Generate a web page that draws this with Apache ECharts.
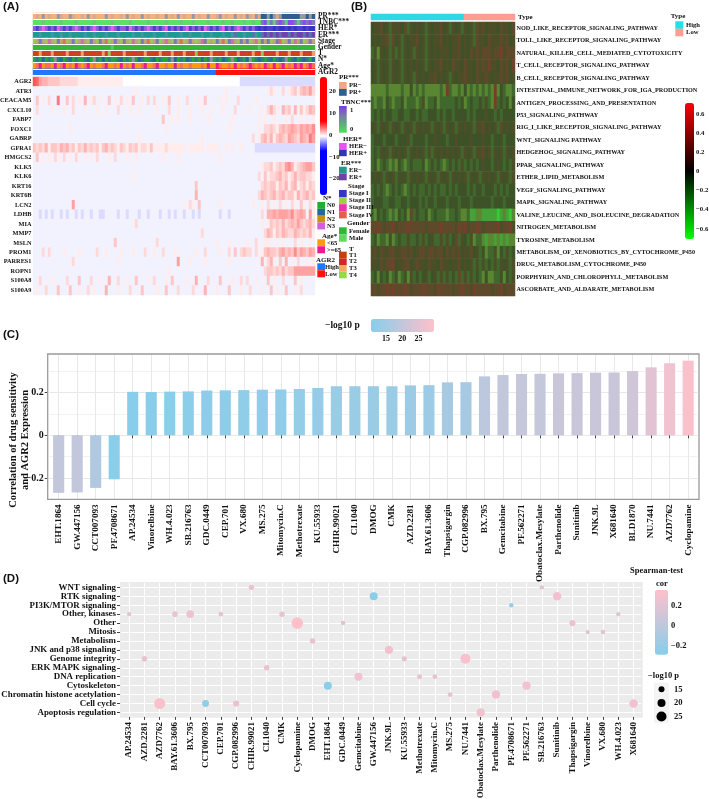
<!DOCTYPE html>
<html>
<head>
<meta charset="utf-8">
<style>html,body{margin:0;padding:0;background:#fff}#main{width:709px;height:799px}</style>
<script src="https://cdn.jsdelivr.net/npm/echarts@6/dist/echarts.min.js"></script>
</head>
<body>
<div id="main"></div>
<script>
var SERIF = '"Liberation Serif"';

// ---- panel A: annotation tracks, one letter per column, letter = index into the palette
var trackNames = ['PR***', 'TNBC***', 'HER*', 'ER***', 'Stage', 'Gender', 'T', 'N*', 'Age*', 'AGR2'];
var trackColors = [
    ['#F6AE82', '#DBA98C', '#949AA4', '#2E5F8E'],
    ['#5CE066', '#6CC87E', '#8078B8', '#8A4CE8'],
    ['#E860E8', '#8E5CDC', '#4A42CC', '#3434C0'],
    ['#1F9A90', '#3D9AA0', '#5C72AE', '#7040B0'],
    ['#A0C858', '#B8A878', '#7A78B8', '#D070A0', '#E0705A'],
    ['#35B835', '#58CC58'],
    ['#D63A28', '#C84A10', '#F0A060', '#98C848'],
    ['#22A838', '#2A7F80', '#206B9A', '#9090A0'],
    ['#FF9A10', '#F87050', '#F01890'],
    ['#1E78FF', '#FF1010']
];
var trackRows = [
    'abacabaacb aacbaabaca baaacabaab acabaacaba abaacabaca baacabaaca abcabaacab acbacbddcd cbcddddddc cdcd',
    'aaabaaaaab aaaabaaaaa baaaaabaaa aabaaaaaba aaaabaaaab aaabaaaaba aaabaabaaa baabaacdbc bcdcbddcbc dcdc',
    'bcbabcbcab cbcbabcbcb abcbcbabcb bcabcbcbab cbcbacbcbc bacbcbcabc bcbacbcbab cbcbcdcdcc dcddcdcdcc dcdd',
    'aabaaabaab aabaaaabaa baaabaaaba aaabaabaaa baaabaaaab aabaaabaab aaabaabcaa baacbacdcd cdcddcdcdd cdcd',
    'abcbadbacb eabcabdbac bacbeabcba cbadbacbea bcabdbacbe abcbabdcab acbeacdbac bcabdacbca bceabcadbc abcb',
    'aaaaaaaaaa aaaaaaaaaa aaaaaabaaa aaaaaaaaaa aaaaaaaaaa aaaaaaaaaa aaaaaaaaaa aaaaabaaaa aaaaaaaaaa aaaa',
    'abcabacabb acaabacaba abacadabaa cabaabacab aacabacaba cabadabaac abaacabaca abacbadaab acabacabac abac',
    'abacabadbc abcabaabca dbacabaabc abadacbaab cabaabdcab acbabacabd abacbadacb acdabcbabc abcbdabcab cbac',
    'abcabbacab cabacbabca baabcaabac abacaabcaa bcaabaacab aabaaabaca acbaabacab abcbabacba cabcabacbc abcb',
    'aaaaaaaaaa aaaaaaaaaa aaaaaaaaaa aaaaaaaaaa aaaaaaaaaa aaaaaaaaaa abbbbbbbbb bbbbbbbbbb bbbbbbbbbb bbbb'
];

// ---- panel A: expression heatmap, 94 columns. '.' background, 'a' lavender, 0-9 white to red
var genes = ['AGR2', 'ATR3', 'CEACAM5', 'CXCL10', 'FABP7', 'FOXC1', 'GABRP', 'GFRA1', 'HMGCS2', 'KLK5', 'KLK6', 'KRT16',
    'KRT6B', 'LCN2', 'LDHB', 'MIA', 'MMP7', 'MSLN', 'PROM1', 'PARRES1', 'ROPN1', 'S100A8', 'S100A9'];
var geneRows = [
    '9854433332 2222211111 1111111111 0000000000 0000000000 0000000000 000000000a aaaaaaaaaa aaaaaaaaaa aaaa',
    '.......... .......... .......... ....1..... .......... .......... ....1..... ........12 1..2.12313 4352',
    '.3.1.2..7. .3.2.1.4.1 2.1..3.1.2 .1.3..1.2. 2..1.3..1. .2...1.3.. ..1.1...2. ....1..... .......... ....',
    '.2....1... 1..2...1.. .1..1...2. ..1..1.... .1...2..1. ..1...1..1 ...1...2.. ..1...1.24 21.423.413 1243',
    '.......... .......... .......... .......... ...3..1.1. ..1.....1. ......1... .....1.1.. 1...1.2..1 .1.1',
    '.......... ..1....... .......... .......... ....1..... .......... .....1.... .....1.223 2134345435 4546',
    '.......... .......... .......... .....1.... .......... ......1... .......... ...2.13424 1343254325 4375',
    '3232413324 3423132423 2313423213 2132312213 1111211111 1.11111.11 11..1.1..1 ....aaaaaa aaaaaaaaaa aaaa',
    '.3.1.1.21. 2.1.2..1.1 .2...1.2.. .1..1..... ...1....1. .......... ..1....... .......... .......... ....',
    '.......... .......... .......... .......... .......... .......... .......... ......1223 1232564123 4553',
    '.......... .......... .......... ...1...... .......... .......... .......... .....2.312 2342312423 3221',
    '.......... .......... .......... .......... .......... ....3..... .......... ......2323 3132413412 3132',
    '.......... .......... .......... .......... .......... ....4..... .......... .....24323 4234233142 3423',
    '.......... ...5...... .......... .......... .......... 1.21.3.... ..1....... ...1..1.2. 1.2.1.21.3 1.21',
    '..a.a.a..a .a..a.a..a ..aa....a. .a...a..a. ..a..a.a.. a..a.a.... ..a..a.... ......2.44 5455546345 4.51',
    '.......... .......... .......... ....2..... .......... .......... .......... ......1.13 2324234353 2342',
    '.......... .......... .......... .......... .......... ......2... .......... .......243 1324322432 3241',
    '.......... .......... .......3.. .......... .2........ .......... .1...1.... .1..2..11. .1.1...2.1 ..1.',
    '...2.2.... 1....1.... .2..1....1 ...1...2.. 1..2...1.. ....1..2.. ..1..2.3.2 322.2.1343 3245343635 4354',
    '.......... ...2...... ........1. .......... ........5. ..1....1.. .....1.... ......4.24 1.3.4.1.2. .1.1',
    '.......... .......... .......... .......... .....1.... .......... .......... .......233 2324233555 5555',
    '..2...1... .2...3...2 ..1..4..2. .1..3...1. 2...1.3... .1..4...2. ..3...1..2 .2..1...3. 1..2...3.1 ....',
    '.1..2...3. ..3..1..2. 1...4...1. ..2...3... .1..3...2. ...2...4.. .1...3...1 ..2...1..3 .1..3..1.2 ....'
];

// ---- panel B: pathway heatmap, 48 columns, 0 green to 9 red
var pathways = ['NOD_LIKE_RECEPTOR_SIGNALING_PATHWAY', 'TOLL_LIKE_RECEPTOR_SIGNALING_PATHWAY', 'NATURAL_KILLER_CELL_MEDIATED_CYTOTOXICITY',
    'T_CELL_RECEPTOR_SIGNALING_PATHWAY', 'B_CELL_RECEPTOR_SIGNALING_PATHWAY', 'INTESTINAL_IMMUNE_NETWORK_FOR_IGA_PRODUCTION',
    'ANTIGEN_PROCESSING_AND_PRESENTATION', 'P53_SIGNALING_PATHWAY', 'RIG_I_LIKE_RECEPTOR_SIGNALING_PATHWAY', 'WNT_SIGNALING PATHWAY',
    'HEDGEHOG_SIGNALING_PATHWAY', 'PPAR_SIGNALING_PATHWAY', 'ETHER_LIPID_METABOLISM', 'VEGF_SIGNALING_PATHWAY', 'MAPK_SIGNALING_PATHWAY',
    'VALINE_LEUCINE_AND_ISOLEUCINE_DEGRADATION', 'NITROGEN_METABOLISM', 'TYROSINE_METABOLISM', 'METABOLISM_OF_XENOBIOTICS_BY_CYTOCHROME_P450',
    'DRUG_METABOLISM_CYTOCHROME_P450', 'PORPHYRIN_AND_CHLOROPHYLL_METABOLISM', 'ASCORBATE_AND_ALDARATE_METABOLISM'];
var pathwayRows = [
    '45564535 55463545 45354556 45354535 45365645 55465546',
    '45455636 45354556 45354556 45455645 45365546 55565645',
    '35254535 35354535 45354545 55455645 46565666 56675666',
    '45354535 45354545 45354556 45465546 55465657 55465647',
    '45354535 45354535 45455645 45354556 55465565 45565645',
    '22222322 22322423 23222223 27322324 23232323 27243223',
    '32332432 33423332 35233423 33334342 34334353 27343424',
    '34343443 34433443 43344434 34434444 34344454 43434444',
    '45354535 45354535 45453545 35453545 45355645 45364545',
    '34443444 34445344 44344544 43445444 45444544 34443444',
    '34354535 45453545 45353545 45454535 45355645 35453545',
    '34234323 24323433 34234343 23434353 43434544 34543435',
    '45453545 35453545 45354535 45354545 35453545 45354535',
    '34343234 34323434 33434343 34343444 34344344 43434344',
    '34443344 33443444 34344344 43444344 43444444 34443444',
    '32434323 24342634 33423433 32334322 31122111 11012102',
    '66765667 56667666 66566667 66665767 56676566 66756675',
    '34233242 34335334 35345335 35346354 35233212 21212122',
    '56465566 55665645 66566566 46565645 56453423 35243534',
    '55465667 45566456 55465546 55455645 45353534 35354535',
    '34243423 42342534 34534535 35343635 35343242 23342435',
    '66566767 66676566 67666576 66656676 65766666 56675666'
];
var typeRow = 'aaaaaaaa aaaaaaaa aaaaaaaa aaaaaaab bbbbbbbb bbbbbbbb';
var typeColors = ['#2ED8E4', '#FF9C94'];

// ---- panel C: drug correlation, ordered by correlation
var drugs = ['EHT.1864', 'GW.447156', 'CCT007093', 'PF.4708671', 'AP.24534', 'Vinorelbine', 'WH.4.023', 'SB.216763', 'GDC.0449', 'CEP.701',
    'VX.680', 'MS.275', 'Mitomycin.C', 'Methotrexate', 'KU.55933', 'CHIR.99021', 'CI.1040', 'DMOG', 'CMK', 'AZD.2281', 'BAY.61.3606',
    'Thapsigargin', 'CGP.082996', 'BX.795', 'Gemcitabine', 'PF.562271', 'Obatoclax.Mesylate', 'Parthenolide', 'Sunitinib', 'JNK.9L',
    'X681640', 'BLD1870', 'NU.7441', 'AZD7762', 'Cyclopamine'];
var corValues = [-0.268, -0.266, -0.245, -0.205, 0.202, 0.201, 0.203, 0.204, 0.208, 0.209, 0.21, 0.212, 0.213, 0.215, 0.22, 0.228, 0.228,
    0.228, 0.228, 0.232, 0.233, 0.246, 0.247, 0.274, 0.28, 0.285, 0.286, 0.288, 0.289, 0.291, 0.292, 0.299, 0.316, 0.335, 0.347];
var logP = [20, 20, 17, 11, 10.6, 10.6, 10.8, 11, 11.3, 11.5, 11.7, 12, 12, 12.3, 12.8, 13.6, 13.6, 13.6, 13.6, 14, 14, 15.5, 15.5,
    19, 20, 20.5, 20.5, 21, 21, 21, 21.3, 22, 25, 27.5, 29];

// ---- panel D: drug by pathway bubbles
var signalings = ['WNT signaling', 'RTK signaling', 'PI3K/MTOR signaling', 'Other, kinases', 'Other', 'Mitosis', 'Metabolism', 'JNK and p38 signaling',
    'Genome integrity', 'ERK MAPK signaling', 'DNA replication', 'Cytoskeleton', 'Chromatin histone acetylation', 'Cell cycle', 'Apoptosis regulation'];
var bubbleDrugs = ['AP.24534', 'AZD.2281', 'AZD7762', 'BAY.61.3606', 'BX.795', 'CCT007093', 'CEP.701', 'CGP.082996', 'CHIR.99021', 'CI.1040', 'CMK',
    'Cyclopamine', 'DMOG', 'EHT.1864', 'GDC.0449', 'Gemcitabine', 'GW.447156', 'JNK.9L', 'KU.55933', 'Methotrexate', 'Mitomycin.C', 'MS.275', 'NU.7441',
    'Obatoclax.Mesylate', 'Parthenolide', 'PF.4708671', 'PF.562271', 'SB.216763', 'Sunitinib', 'Thapsigargin', 'Vinorelbine', 'VX.680', 'WH.4.023', 'X681640'];
var bubblePairs = [['CHIR.99021', 'WNT signaling'], ['SB.216763', 'WNT signaling'], ['GW.447156', 'RTK signaling'], ['Sunitinib', 'RTK signaling'],
    ['PF.4708671', 'PI3K/MTOR signaling'], ['AP.24534', 'Other, kinases'], ['BAY.61.3606', 'Other, kinases'], ['BX.795', 'Other, kinases'],
    ['CEP.701', 'Other, kinases'], ['CMK', 'Other, kinases'], ['WH.4.023', 'Other, kinases'], ['Cyclopamine', 'Other'], ['GDC.0449', 'Other'],
    ['Thapsigargin', 'Other'], ['Vinorelbine', 'Mitosis'], ['VX.680', 'Mitosis'], ['DMOG', 'Metabolism'], ['JNK.9L', 'JNK and p38 signaling'],
    ['AZD.2281', 'Genome integrity'], ['KU.55933', 'Genome integrity'], ['NU.7441', 'Genome integrity'], ['CI.1040', 'ERK MAPK signaling'],
    ['Gemcitabine', 'DNA replication'], ['Methotrexate', 'DNA replication'], ['Mitomycin.C', 'DNA replication'], ['EHT.1864', 'Cytoskeleton'],
    ['PF.562271', 'Cytoskeleton'], ['MS.275', 'Chromatin histone acetylation'], ['Parthenolide', 'Chromatin histone acetylation'], ['AZD7762', 'Cell cycle'],
    ['CCT007093', 'Cell cycle'], ['CGP.082996', 'Cell cycle'], ['X681640', 'Cell cycle'], ['Obatoclax.Mesylate', 'Apoptosis regulation']];
var sizeKeys = [15, 20, 25];

// ---- legends of panels A and B
var legendBlocks = [
    { title: 'PR***', tx: 339, ty: 77.5, kx: 339, ky: 82, kh: 6.9, lx: 349, items: [['PR−', '#F6A67C'], ['PR+', '#2E5F8E']] },
    { title: 'HER*', tx: 343, ty: 139, kx: 339, ky: 143, kh: 6.6, lx: 349, items: [['HER−', '#F050F0'], ['HER+', '#3333BB']] },
    { title: 'ER***', tx: 341, ty: 162.7, kx: 339, ky: 166.7, kh: 6.8, lx: 349, items: [['ER−', '#1F9A90'], ['ER+', '#7040B0']] },
    { title: 'Stage', tx: 348, ty: 186, kx: 339, ky: 190, kh: 7.1, lx: 349, items: [['Stage I', '#3535C5'], ['Stage II', '#A0D040'], ['Stage III', '#F030B0'], ['Stage IV', '#E06050']] },
    { title: 'Gender', tx: 347, ty: 223.3, kx: 339, ky: 227.3, kh: 7.2, lx: 349, items: [['Female', '#30B830'], ['Male', '#60D860']] },
    { title: 'T', tx: 349, ty: 248.7, kx: 339, ky: 251.7, kh: 6.65, lx: 349, items: [['T1', '#C84000'], ['T2', '#D02828'], ['T3', '#F8A860'], ['T4', '#98D848']] },
    { title: 'N*', tx: 323, ty: 198.3, kx: 317.3, ky: 202, kh: 6.85, lx: 327, items: [['N0', '#20B030'], ['N1', '#206B9A'], ['N2', '#C89018'], ['N3', '#D060E0']] },
    { title: 'Age*', tx: 322, ty: 235.7, kx: 317.3, ky: 239.3, kh: 7, lx: 327, items: [['<65', '#FF9A10'], ['>=65', '#F01890']] },
    { title: 'AGR2', tx: 316, ty: 260, kx: 317.3, ky: 263.3, kh: 7, lx: 325, items: [['High', '#1E78FF'], ['Low', '#FF1010']] },
    { title: 'Type', tx: 670.7, ty: 15.7, kx: 675.3, ky: 21.3, kh: 7.5, lx: 686, items: [['High', '#20E0E8'], ['Low', '#FF9C94']] }
];

// ---- helpers
function cells(row) { return row.replace(/ /g, '').split(''); }
function geneValue(ch) {
    if (ch === '.') return -0.85;
    if (ch === 'a') return -1.45;
    return -0.5 + Number(ch) * 0.5;
}
function pathwayValue(ch) { return (Number(ch) - 4.5) * 0.15; }
function bubbleSize(p) { return 6 + (p - 15) * 0.4; }
function minusSign(v) { return String(v).replace('-', '−'); }
function columns(n) { var a = []; for (var i = 0; i < n; i++) a.push(i); return a; }

var grids = [], xAxes = [], yAxes = [], series = [], visualMaps = [], graphics = [];
// returns the axis index (also the index of its grid until an extra axis is pushed)
function addGrid(rect, x, y) {
    rect.containLabel = false;
    rect.outerBoundsMode = 'none'; // v6 would shrink the grid when a long label reaches the canvas edge
    grids.push(rect);
    x.gridIndex = y.gridIndex = grids.length - 1;
    xAxes.push(x); yAxes.push(y);
    return xAxes.length - 1;
}
function hiddenCat(data) { return { type: 'category', data: data, show: false }; }
function labelFont(size) { return { fontFamily: SERIF, fontWeight: 'bold', fontSize: size, color: '#111' }; }
function text(x, y, str, size, align, family) {
    graphics.push({
        type: 'text', x: x, y: y, z: 20, silent: true,
        style: { text: str, fontFamily: family || SERIF, fontWeight: 'bold', fontSize: size, fill: '#111', align: align || 'left', verticalAlign: 'middle' }
    });
}
function box(x, y, w, h, style, z) {
    graphics.push({ type: 'rect', x: x, y: y, z: z === undefined ? 20 : z, silent: true, shape: { x: 0, y: 0, width: w, height: h }, style: style });
}
function catAxisY(names, position, margin, size) {
    return {
        type: 'category', data: names, inverse: true, position: position,
        axisLine: { show: false }, axisTick: { show: false },
        axisLabel: Object.assign({ margin: margin, interval: 0 }, labelFont(size))
    };
}
// colour bar axis: only the tick labels, the bar itself is the visualMap
function barAxis(rect, min, max, ticks, size, margin) {
    addGrid(rect, { type: 'value', show: false, min: 0, max: 1 }, {
        type: 'value', min: min, max: max, position: 'right', splitLine: { show: false },
        axisLine: { show: false }, axisTick: { show: false },
        axisLabel: Object.assign({ customValues: ticks, margin: margin, formatter: minusSign }, labelFont(size))
    });
}

// ---- categorical palette shared by all annotation tracks
var catColors = [], catPieces = [];
function catOffset(colors) {
    var off = catColors.length;
    colors.forEach(function (c, i) { catColors.push(c); catPieces.push({ value: off + i, color: c }); });
    return off;
}
var catSeries = [];

// panel A tracks
var trackGrid = addGrid({ left: 33, top: 13, width: 282, height: 62 }, hiddenCat(columns(94)), Object.assign(catAxisY(trackNames, 'right', 3, 7.3), {
    z: 5, splitLine: { show: true, lineStyle: { color: '#fff', width: 1 } }
}));
var trackData = [];
trackRows.forEach(function (row, r) {
    var off = catOffset(trackColors[r]);
    cells(row).forEach(function (ch, c) { trackData.push([c, r, off + ch.charCodeAt(0) - 97]); });
});
catSeries.push(series.length);
series.push({ type: 'heatmap', xAxisIndex: trackGrid, yAxisIndex: trackGrid, data: trackData, progressive: 0, silent: true });

// panel A heatmap
var geneGrid = addGrid({ left: 33, top: 77, width: 282, height: 218 }, hiddenCat(columns(94)), catAxisY(genes, 'left', 1.5, 6.3));
var geneData = [];
geneRows.forEach(function (row, r) {
    cells(row).forEach(function (ch, c) { geneData.push([c, r, geneValue(ch)]); });
});
visualMaps.push({
    type: 'continuous', seriesIndex: series.length, min: -27.5, max: 26.5, left: 320, top: 77, itemWidth: 7, itemHeight: 118,
    padding: 0, text: null, calculable: false, hoverLink: false,
    inRange: { color: ['#0000FF', '#0000FF', '#0000FF', '#0000FF', '#FFFFFF', '#FF0000', '#FF0000', '#FF0000', '#FF0000'] }
});
series.push({ type: 'heatmap', xAxisIndex: geneGrid, yAxisIndex: geneGrid, data: geneData, progressive: 0, silent: true });
barAxis({ left: 320, top: 77, width: 7, height: 118 }, -27.5, 26.5, [-20, -10, 0, 10, 20], 6.8, 2);

// panel B type bar
var typeGrid = addGrid({ left: 371, top: 14, width: 144, height: 6 }, hiddenCat(columns(48)), catAxisY(['Type'], 'right', 3, 7));
var typeOff = catOffset(typeColors);
catSeries.push(series.length);
series.push({
    type: 'heatmap', xAxisIndex: typeGrid, yAxisIndex: typeGrid, progressive: 0, silent: true,
    data: cells(typeRow).map(function (ch, c) { return [c, 0, typeOff + ch.charCodeAt(0) - 97]; })
});
visualMaps.push({ type: 'piecewise', show: false, seriesIndex: catSeries, pieces: catPieces });

// panel B heatmap. The picture is downsampled from many thin stripes, so neighbours have
// blended into olive; the cell colours keep that look, the colour bar keeps the real scale.
var pathGrid = addGrid({ left: 371, top: 22, width: 144, height: 274 }, hiddenCat(columns(48)), catAxisY(pathways, 'right', 1.5, 6.2));
var pathData = [];
pathwayRows.forEach(function (row, r) {
    cells(row).forEach(function (ch, c) { pathData.push([c, r, pathwayValue(ch)]); });
});
visualMaps.push({
    type: 'continuous', show: false, seriesIndex: series.length, min: -0.675, max: 0.675,
    inRange: { color: ['#36C836', '#44A238', '#5A8632', '#41682C', '#3E5228', '#4C4E28', '#5E4A2A', '#74402C', '#94342C', '#C82C28'] }
});
series.push({ type: 'heatmap', xAxisIndex: pathGrid, yAxisIndex: pathGrid, data: pathData, progressive: 0, silent: true });
// colour bar of panel B, tied to an empty series
visualMaps.push({
    type: 'continuous', seriesIndex: series.length, min: -0.707, max: 0.715, left: 685, top: 103, itemWidth: 9, itemHeight: 136,
    padding: 0, text: null, calculable: false, hoverLink: false,
    inRange: { color: ['#00FF00', '#000000', '#FF0000'] }
});
series.push({ type: 'heatmap', xAxisIndex: pathGrid, yAxisIndex: pathGrid, data: [], silent: true });
barAxis({ left: 685, top: 103, width: 9, height: 136 }, -0.707, 0.715, [-0.6, -0.4, -0.2, 0, 0.2, 0.4, 0.6], 6.8, 2);

// panel C
var barGrid = addGrid({ left: 49.4, top: 354, width: 648, height: 145.3 }, {
    type: 'category', data: drugs,
    axisLine: { show: false },
    axisTick: { show: true, alignWithLabel: true, length: 3, lineStyle: { color: '#444' } },
    splitLine: { show: true, alignWithLabel: true, interval: 0, lineStyle: { color: '#E8E8E8', width: 1 } },
    axisLabel: Object.assign({ rotate: 90, interval: 0, margin: 5 }, labelFont(9.2))
}, {
    type: 'value', min: -0.298, max: 0.378, position: 'left', offset: 1.7,
    axisLine: { show: false },
    axisTick: { show: true, length: 3, customValues: [-0.2, 0, 0.2], lineStyle: { color: '#444' } },
    splitLine: { show: true, lineStyle: { color: '#E8E8E8', width: 1 } },
    axisLabel: Object.assign({ customValues: [-0.2, 0, 0.2], margin: 4, formatter: minusSign }, labelFont(10))
});
// minor horizontal lines of panel C
xAxes.push({ type: 'category', data: drugs, show: false, gridIndex: grids.length - 1 });
yAxes.push({
    type: 'value', min: -0.298, max: 0.378, gridIndex: grids.length - 1, position: 'right',
    axisLine: { show: false }, axisTick: { show: false, customValues: [-0.1, 0.1, 0.3] }, axisLabel: { show: false, customValues: [-0.1, 0.1, 0.3] },
    splitLine: { show: true, lineStyle: { color: '#F2F2F2', width: 1 } }
});
visualMaps.push({
    type: 'continuous', orient: 'horizontal', seriesIndex: series.length, dimension: 2, min: 10.4, max: 29.8,
    left: 371, top: 319, itemWidth: 13, itemHeight: 63, padding: 0, text: null, calculable: false, hoverLink: false,
    inRange: { color: ['#87CEEB', '#FFC0CB'] }
});
series.push({
    type: 'bar', xAxisIndex: barGrid, yAxisIndex: barGrid, barWidth: '60%', silent: true, z: 3,
    encode: { x: 0, y: 1 },
    data: drugs.map(function (d, i) { return [d, corValues[i], logP[i]]; })
});
// ticks under the horizontal -log10 p bar
addGrid({ left: 371, top: 319, width: 63, height: 13 }, {
    type: 'value', min: 10.4, max: 29.8, axisLine: { show: false }, axisTick: { show: false }, splitLine: { show: false },
    axisLabel: Object.assign({ customValues: [15, 20, 25], margin: 3 }, labelFont(8))
}, { type: 'value', show: false, min: 0, max: 1 });

// panel D
box(120, 581.9, 522.7, 135.8, { fill: '#EBEBEB' }, -1);
var dotGrid = addGrid({ left: 121.5, top: 582.9, width: 519.7, height: 134 }, {
    type: 'category', data: bubbleDrugs,
    axisLine: { show: false },
    axisTick: { show: true, alignWithLabel: true, length: 3, lineStyle: { color: '#444' } },
    splitLine: { show: true, alignWithLabel: true, interval: 0, lineStyle: { color: '#fff', width: 1 } },
    axisLabel: Object.assign({ rotate: 90, interval: 0, margin: 5 }, labelFont(9))
}, {
    type: 'category', data: signalings, inverse: true, offset: 1.5,
    axisLine: { show: false },
    axisTick: { show: true, alignWithLabel: true, length: 3, lineStyle: { color: '#444' } },
    splitLine: { show: true, alignWithLabel: true, interval: 0, lineStyle: { color: '#fff', width: 1 } },
    axisLabel: Object.assign({ interval: 0, margin: 4 }, labelFont(8.9))
});
visualMaps.push({
    type: 'continuous', seriesIndex: series.length, dimension: 3, min: -0.286, max: 0.355,
    left: 655, top: 590, itemWidth: 13, itemHeight: 64.7, padding: 0, text: null, calculable: false, hoverLink: false,
    inRange: { color: ['#87CEEB', '#FFC0CB'] }
});
series.push({
    type: 'scatter', xAxisIndex: dotGrid, yAxisIndex: dotGrid, silent: true,
    symbolSize: function (v) { return bubbleSize(v[2]); },
    encode: { x: 0, y: 1 },
    itemStyle: { opacity: 1 },
    data: bubblePairs.map(function (b) {
        var i = drugs.indexOf(b[0]);
        return [b[0], b[1], logP[i], corValues[i]];
    })
});
barAxis({ left: 655, top: 590, width: 13, height: 64.7 }, -0.286, 0.355, [-0.2, 0, 0.2], 8.5, 3);

// size key of panel D
box(654, 682.6, 15, 40.6, { fill: '#F4F4F4' }, -1);
var keyGrid = addGrid({ left: 654, top: 682.6, width: 15, height: 40.6 }, { type: 'category', data: ['k'], show: false },
    catAxisY(sizeKeys.map(String), 'right', 5, 8.5));
series.push({
    type: 'scatter', xAxisIndex: keyGrid, yAxisIndex: keyGrid, silent: true,
    symbolSize: function (v) { return bubbleSize(Number(v[1])); },
    itemStyle: { color: '#000', opacity: 1 },
    data: sizeKeys.map(function (k) { return ['k', String(k)]; })
});

// ---- graphics: frame, legends, titles
box(47.7, 354, 651.3, 145.3, { fill: 'none', stroke: '#9A9A9A', lineWidth: 1.3 });
legendBlocks.forEach(function (b) {
    text(b.tx, b.ty, b.title, 7);
    b.items.forEach(function (it, i) {
        box(b.kx, b.ky + i * b.kh, b.title === 'Type' ? 8 : 7.7, b.kh, { fill: it[1] });
        text(b.lx, b.ky + (i + 0.5) * b.kh, it[0], 6.6);
    });
});
// TNBC gradient key
text(341, 101.7, 'TBNC***', 7);
box(339, 106, 7.7, 26.7, {
    fill: new echarts.graphic.LinearGradient(0, 0, 0, 1, [
        { offset: 0, color: '#7C3AED' }, { offset: 0.35, color: '#7A7AA8' }, { offset: 0.65, color: '#60A880' }, { offset: 1, color: '#4EE05A' }
    ])
});
text(350, 110, '1', 6.6);
text(350, 129.3, '0', 6.6);

text(3, 7, '(A)', 11.5, 'left', '"Liberation Sans"');
text(351, 7, '(B)', 11.5, 'left', '"Liberation Sans"');
text(3, 335, '(C)', 11.5, 'left', '"Liberation Sans"');
text(3, 579.3, '(D)', 11.5, 'left', '"Liberation Sans"');
text(325, 326, '−log10 p', 9.5);
text(683, 571, 'Spearman-test', 8.5, 'right');
text(656, 583.7, 'cor', 8.5);
text(648, 675.7, '−log10 p', 8.5);
[['Correlation of drug sensitivity', 13.3], ['and AGR2 Expression', 25.7]].forEach(function (t) {
    graphics.push({
        type: 'text', x: t[1], y: 440, rotation: Math.PI / 2, z: 20, silent: true,
        style: { text: t[0], fontFamily: SERIF, fontWeight: 'bold', fontSize: 10.5, fill: '#111', align: 'center', verticalAlign: 'middle' }
    });
});

var myChart = echarts.init(document.getElementById('main'), null, { renderer: 'canvas' });
var option = {
    animation: false,
    backgroundColor: '#fff',
    grid: grids,
    xAxis: xAxes,
    yAxis: yAxes,
    visualMap: visualMaps,
    series: series,
    graphic: { elements: graphics }
};
myChart.setOption(option);
window.addEventListener('resize', myChart.resize);
</script>
</body>
</html>
